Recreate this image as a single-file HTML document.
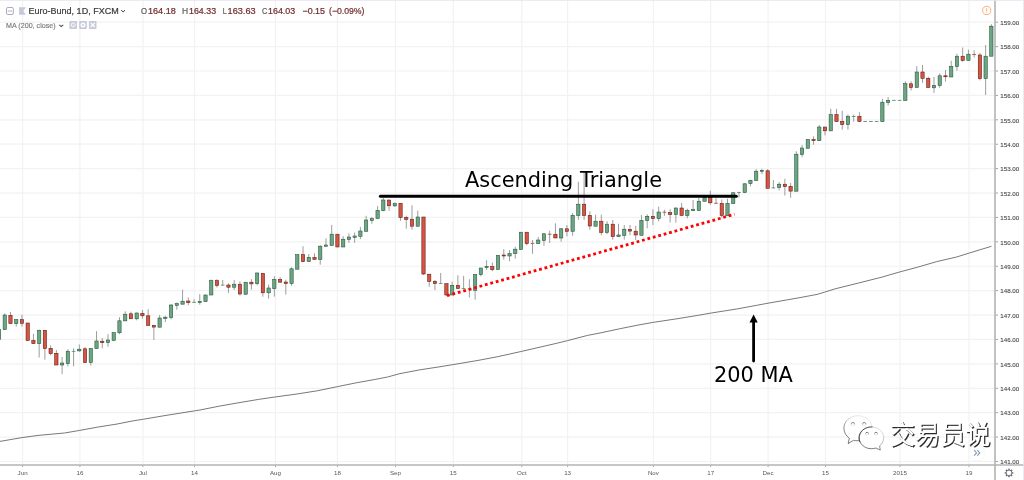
<!DOCTYPE html><html><head><meta charset="utf-8"><title>Euro-Bund chart</title><style>html,body{margin:0;padding:0;background:#fff}body{width:1024px;height:480px;position:relative;overflow:hidden}</style></head><body><svg width="1024" height="480" viewBox="0 0 1024 480" style="position:absolute;left:0;top:0">
<path d="M22.6 0V465.0M79.9 0V465.0M142.9 0V465.0M194.5 0V465.0M275.5 0V465.0M337.4 0V465.0M395.5 0V465.0M453.3 0V465.0M521.8 0V465.0M567.6 0V465.0M653.4 0V465.0M710.7 0V465.0M768.1 0V465.0M825.5 0V465.0M900.0 0V465.0M969.0 0V465.0M0 22.20H995.0M0 46.61H995.0M0 71.01H995.0M0 95.42H995.0M0 119.82H995.0M0 144.22H995.0M0 168.63H995.0M0 193.03H995.0M0 217.44H995.0M0 241.84H995.0M0 266.25H995.0M0 290.66H995.0M0 315.06H995.0M0 339.46H995.0M0 363.87H995.0M0 388.28H995.0M0 412.68H995.0M0 437.08H995.0M0 461.49H995.0" stroke="#f2f2f2" stroke-width="1.2" fill="none"/>
<polyline points="0,441.4 22.5,437.5 39,435.3 64.5,433.0 79.7,430.4 97.7,427.1 117.2,424.0 132.8,420.9 143.6,419.2 166,415.4 194.3,410.9 200,410.0 219.5,406.1 239,402.7 258.6,399.4 275.6,396.9 297.7,393.9 317.2,390.8 337.7,386.6 356.25,382.8 375.8,379.3 387.5,377.0 400,373.6 419.5,369.9 439,366.9 453.1,364.6 478.1,360.4 497.7,356.7 521.5,351.4 536.7,347.9 556.25,343.4 567.6,340.6 587.5,335.4 600,333.0 619.5,328.8 639,324.9 653.7,322.3 678.1,318.6 697.7,315.4 711.3,313.0 736.7,309.0 756.25,305.4 768,303.2 787.5,299.8 800,297.6 817.6,294.3 825.4,291.9 835.2,288.8 858.6,283.0 882,277.1 900.2,271.8 917.2,267.3 936.7,261.6 956.25,257.1 969.1,253.1 991.4,246.3" fill="none" stroke="#555" stroke-width="0.8" stroke-linejoin="round"/>
<g clip-path="url(#cp)">
<path d="M-0.99 329.2V339.7M4.75 313.3V329.7M10.48 312.0V323.7M16.22 319.2V326.7M21.96 314.7V326.7M27.69 323.0V340.5M33.43 333.8V343.7M39.16 329.7V357.5M44.90 330.3V359.7M50.64 345.3V355.3M56.37 350.0V365.0M62.11 357.0V374.2M67.84 349.2V366.3M73.58 348.3V366.3M79.32 344.5V351.7M85.05 347.2V362.7M90.79 348.3V365.5M96.53 331.2V348.7M102.26 338.0V348.3M108.00 334.2V346.7M113.73 332.7V340.5M119.47 317.2V334.2M125.21 311.3V320.8M130.94 311.7V318.8M136.68 312.5V320.3M142.41 310.0V318.7M148.15 309.2V325.5M153.89 325.0V340.0M159.62 315.0V327.2M165.36 315.8V322.0M171.10 304.2V319.5M176.83 302.5V309.7M182.57 289.7V304.2M188.30 297.5V305.3M194.04 299.2V303.0M199.78 294.2V304.7M205.51 294.5V301.7M211.25 279.5V295.0M216.98 279.2V287.5M222.72 280.0V285.5M228.46 283.3V292.8M234.19 280.0V290.0M239.93 281.3V295.5M245.67 282.2V295.0M251.40 279.2V289.7M257.14 272.5V285.3M262.87 273.3V296.7M268.61 284.7V298.7M274.35 276.2V296.7M280.08 277.2V282.2M285.82 279.7V294.5M291.55 267.2V285.8M297.29 254.7V269.2M303.03 246.2V261.7M308.76 254.2V261.7M314.50 253.3V259.5M320.23 245.3V264.7M325.97 238.3V246.3M331.71 225.0V245.5M337.44 234.2V247.0M343.18 236.2V247.0M348.92 233.3V242.8M354.65 232.5V242.8M360.39 227.0V239.2M366.12 215.8V231.3M371.86 217.0V223.7M377.60 206.2V218.7M383.33 198.0V211.3M389.07 200.0V210.8M394.80 202.5V206.7M400.54 203.3V220.8M406.28 215.8V228.7M412.01 205.3V229.7M417.75 210.5V226.7M423.49 217.0V275.0M429.22 274.2V286.7M434.96 280.0V290.0M440.69 273.0V283.8M446.43 283.7V295.8M452.17 281.7V295.0M457.90 275.3V288.7M463.64 275.8V289.2M469.37 279.2V297.5M475.11 274.5V299.7M480.85 268.0V276.3M486.58 260.3V270.0M492.32 262.5V271.3M498.05 255.3V269.5M503.79 249.2V259.7M509.53 250.0V261.2M515.26 246.7V258.7M521.00 232.2V250.0M526.74 232.2V245.3M532.47 240.0V253.8M538.21 237.0V243.7M543.94 233.0V245.8M549.68 230.8V243.0M555.42 223.3V238.0M561.15 228.0V241.7M566.89 225.0V236.3M572.62 213.0V235.8M578.36 181.8V219.7M584.10 171.5V220.0M589.83 211.3V229.7M595.57 214.7V226.2M601.31 214.7V235.3M607.04 221.2V234.2M612.78 220.0V239.7M618.51 223.8V236.7M624.25 225.0V239.7M629.99 225.0V235.3M635.72 225.8V240.0M641.46 215.0V235.3M647.19 214.2V228.3M652.93 209.2V225.0M658.67 206.7V221.3M664.40 209.7V215.8M670.14 209.2V222.5M675.87 207.5V222.5M681.61 203.0V215.5M687.35 208.7V218.3M693.08 200.0V210.7M698.82 198.0V210.5M704.56 195.0V201.3M710.29 190.8V204.7M716.03 198.0V203.7M721.76 199.5V217.5M727.50 198.7V215.8M733.24 192.0V203.7M738.97 191.7V197.5M744.71 183.3V192.7M750.44 179.7V186.3M756.18 169.2V180.5M761.92 168.8V174.2M767.65 169.2V188.3M773.39 180.0V188.3M779.13 182.0V190.3M784.86 178.7V195.5M790.60 183.0V197.8M796.33 151.3V191.2M802.07 145.0V157.2M807.81 139.5V148.3M813.54 136.3V144.7M819.28 125.0V140.7M825.01 127.0V135.3M830.75 108.8V130.8M836.49 108.8V121.7M842.22 110.8V129.7M847.96 114.7V129.7M853.70 114.7V121.7M859.43 112.2V121.7M865.17 121.2V121.8M870.90 121.2V121.8M876.64 121.2V121.8M882.38 98.8V121.7M888.11 97.0V105.5M893.85 100.0V100.7M899.58 100.0V100.7M905.32 81.3V100.5M911.06 81.3V90.5M916.79 66.2V87.5M922.53 65.0V82.8M928.26 76.7V87.5M934.00 77.0V92.8M939.74 73.3V87.8M945.47 70.0V81.7M951.21 60.8V77.0M956.95 53.7V70.8M962.68 47.5V61.7M968.42 49.7V60.5M974.15 50.3V57.5M979.89 53.0V80.3M985.63 45.0V95.0M991.36 24.2V56.2" stroke="#737375" stroke-width="0.7" fill="none"/>
<g fill="#6ba583" stroke="#225437" stroke-width="0.55"><rect x="-2.64" y="329.2" width="3.3" height="10.5"/><rect x="3.10" y="315.0" width="3.3" height="14.7"/><rect x="14.57" y="319.7" width="3.3" height="4.0"/><rect x="37.51" y="330.3" width="3.3" height="13.3"/><rect x="60.46" y="363.0" width="3.3" height="2.0"/><rect x="66.19" y="351.2" width="3.3" height="12.5"/><rect x="77.67" y="349.2" width="3.3" height="1.7"/><rect x="89.14" y="348.3" width="3.3" height="14.2"/><rect x="94.88" y="341.0" width="3.3" height="7.7"/><rect x="106.35" y="340.0" width="3.3" height="2.7"/><rect x="112.08" y="332.7" width="3.3" height="7.8"/><rect x="117.82" y="320.8" width="3.3" height="12.0"/><rect x="123.56" y="314.2" width="3.3" height="6.7"/><rect x="135.03" y="313.0" width="3.3" height="5.8"/><rect x="157.97" y="318.0" width="3.3" height="9.2"/><rect x="163.71" y="317.2" width="3.3" height="1.2"/><rect x="169.45" y="305.0" width="3.3" height="12.5"/><rect x="175.18" y="303.7" width="3.3" height="1.7"/><rect x="180.92" y="301.2" width="3.3" height="3.0"/><rect x="198.13" y="301.3" width="3.3" height="1.3"/><rect x="203.86" y="295.0" width="3.3" height="6.7"/><rect x="209.60" y="280.7" width="3.3" height="14.3"/><rect x="232.54" y="284.2" width="3.3" height="3.0"/><rect x="244.02" y="282.2" width="3.3" height="12.0"/><rect x="255.49" y="273.0" width="3.3" height="10.7"/><rect x="266.96" y="288.0" width="3.3" height="4.8"/><rect x="272.70" y="279.5" width="3.3" height="9.2"/><rect x="289.90" y="268.8" width="3.3" height="14.8"/><rect x="295.64" y="254.7" width="3.3" height="14.5"/><rect x="307.11" y="257.3" width="3.3" height="4.3"/><rect x="318.58" y="246.2" width="3.3" height="13.3"/><rect x="324.32" y="245.0" width="3.3" height="1.3"/><rect x="330.06" y="234.2" width="3.3" height="11.3"/><rect x="341.53" y="239.2" width="3.3" height="7.8"/><rect x="347.27" y="237.0" width="3.3" height="2.5"/><rect x="353.00" y="236.0" width="3.3" height="1.3"/><rect x="358.74" y="231.0" width="3.3" height="5.3"/><rect x="364.47" y="220.0" width="3.3" height="11.3"/><rect x="370.21" y="218.7" width="3.3" height="1.8"/><rect x="375.95" y="210.3" width="3.3" height="8.3"/><rect x="381.68" y="200.0" width="3.3" height="10.5"/><rect x="393.15" y="203.7" width="3.3" height="2.2"/><rect x="416.10" y="217.0" width="3.3" height="9.2"/><rect x="450.52" y="285.3" width="3.3" height="9.7"/><rect x="473.46" y="274.5" width="3.3" height="15.8"/><rect x="479.20" y="268.0" width="3.3" height="6.7"/><rect x="484.93" y="266.3" width="3.3" height="1.3"/><rect x="496.40" y="255.3" width="3.3" height="14.2"/><rect x="507.88" y="253.7" width="3.3" height="2.3"/><rect x="513.61" y="249.2" width="3.3" height="4.5"/><rect x="519.35" y="232.2" width="3.3" height="17.3"/><rect x="536.56" y="240.0" width="3.3" height="3.7"/><rect x="542.29" y="233.8" width="3.3" height="6.7"/><rect x="559.50" y="228.8" width="3.3" height="9.2"/><rect x="570.97" y="215.3" width="3.3" height="16.0"/><rect x="576.71" y="204.2" width="3.3" height="11.3"/><rect x="593.92" y="221.2" width="3.3" height="5.0"/><rect x="605.39" y="224.2" width="3.3" height="8.3"/><rect x="616.86" y="235.0" width="3.3" height="1.7"/><rect x="622.60" y="229.2" width="3.3" height="6.2"/><rect x="639.81" y="220.3" width="3.3" height="15.0"/><rect x="645.54" y="216.3" width="3.3" height="4.2"/><rect x="657.02" y="212.0" width="3.3" height="6.7"/><rect x="674.22" y="208.0" width="3.3" height="6.7"/><rect x="685.70" y="210.5" width="3.3" height="5.0"/><rect x="691.43" y="209.7" width="3.3" height="1.0"/><rect x="697.17" y="201.2" width="3.3" height="9.3"/><rect x="702.91" y="197.5" width="3.3" height="3.8"/><rect x="725.85" y="203.3" width="3.3" height="12.5"/><rect x="731.59" y="192.8" width="3.3" height="10.8"/><rect x="743.06" y="183.8" width="3.3" height="8.8"/><rect x="748.79" y="180.3" width="3.3" height="3.3"/><rect x="754.53" y="171.2" width="3.3" height="9.3"/><rect x="760.27" y="170.3" width="3.3" height="1.0"/><rect x="777.48" y="184.2" width="3.3" height="3.3"/><rect x="794.68" y="154.2" width="3.3" height="37.0"/><rect x="800.42" y="148.0" width="3.3" height="6.5"/><rect x="806.16" y="139.5" width="3.3" height="8.8"/><rect x="817.63" y="127.0" width="3.3" height="13.7"/><rect x="829.10" y="114.7" width="3.3" height="16.2"/><rect x="846.31" y="116.2" width="3.3" height="8.5"/><rect x="880.73" y="102.2" width="3.3" height="19.5"/><rect x="886.46" y="100.3" width="3.3" height="2.2"/><rect x="903.67" y="83.7" width="3.3" height="16.8"/><rect x="915.14" y="72.0" width="3.3" height="15.5"/><rect x="932.35" y="85.3" width="3.3" height="2.5"/><rect x="938.09" y="75.8" width="3.3" height="9.7"/><rect x="949.56" y="66.3" width="3.3" height="10.7"/><rect x="955.30" y="56.2" width="3.3" height="10.5"/><rect x="966.77" y="54.2" width="3.3" height="6.3"/><rect x="983.98" y="56.2" width="3.3" height="22.5"/><rect x="989.71" y="26.2" width="3.3" height="30.0"/></g>
<g fill="#d75442" stroke="#5b1a13" stroke-width="0.55"><rect x="8.83" y="315.3" width="3.3" height="8.3"/><rect x="20.31" y="319.7" width="3.3" height="3.7"/><rect x="26.04" y="323.0" width="3.3" height="17.5"/><rect x="31.78" y="340.5" width="3.3" height="3.2"/><rect x="43.25" y="330.3" width="3.3" height="18.3"/><rect x="48.99" y="348.3" width="3.3" height="5.3"/><rect x="54.72" y="353.3" width="3.3" height="11.7"/><rect x="83.40" y="348.8" width="3.3" height="13.8"/><rect x="100.61" y="341.2" width="3.3" height="1.5"/><rect x="129.29" y="313.8" width="3.3" height="5.0"/><rect x="140.76" y="313.3" width="3.3" height="2.5"/><rect x="146.50" y="315.8" width="3.3" height="9.7"/><rect x="152.24" y="325.3" width="3.3" height="1.8"/><rect x="186.65" y="301.0" width="3.3" height="1.7"/><rect x="215.33" y="280.7" width="3.3" height="4.8"/><rect x="226.81" y="285.0" width="3.3" height="2.2"/><rect x="238.28" y="284.2" width="3.3" height="9.8"/><rect x="249.75" y="282.2" width="3.3" height="1.7"/><rect x="261.22" y="273.3" width="3.3" height="19.5"/><rect x="278.43" y="279.5" width="3.3" height="2.7"/><rect x="284.17" y="282.0" width="3.3" height="1.7"/><rect x="301.38" y="254.7" width="3.3" height="7.0"/><rect x="312.85" y="257.5" width="3.3" height="2.0"/><rect x="335.79" y="234.2" width="3.3" height="12.8"/><rect x="387.42" y="200.0" width="3.3" height="5.8"/><rect x="398.89" y="203.3" width="3.3" height="14.3"/><rect x="404.63" y="217.5" width="3.3" height="2.0"/><rect x="410.36" y="219.2" width="3.3" height="7.0"/><rect x="421.84" y="217.0" width="3.3" height="57.0"/><rect x="427.57" y="274.2" width="3.3" height="7.2"/><rect x="433.31" y="281.3" width="3.3" height="2.3"/><rect x="444.78" y="283.7" width="3.3" height="11.3"/><rect x="456.25" y="285.3" width="3.3" height="3.3"/><rect x="490.67" y="266.7" width="3.3" height="3.0"/><rect x="502.14" y="255.0" width="3.3" height="1.0"/><rect x="525.09" y="232.2" width="3.3" height="11.5"/><rect x="553.77" y="234.2" width="3.3" height="3.8"/><rect x="565.24" y="228.8" width="3.3" height="2.5"/><rect x="582.45" y="204.2" width="3.3" height="11.3"/><rect x="588.18" y="215.3" width="3.3" height="10.7"/><rect x="599.66" y="221.2" width="3.3" height="11.3"/><rect x="611.13" y="224.2" width="3.3" height="12.5"/><rect x="628.34" y="229.3" width="3.3" height="1.8"/><rect x="634.07" y="231.2" width="3.3" height="3.8"/><rect x="651.28" y="216.3" width="3.3" height="2.3"/><rect x="668.49" y="212.5" width="3.3" height="2.2"/><rect x="679.96" y="208.0" width="3.3" height="7.5"/><rect x="708.64" y="197.5" width="3.3" height="5.3"/><rect x="720.11" y="203.3" width="3.3" height="12.2"/><rect x="766.00" y="170.8" width="3.3" height="17.5"/><rect x="783.21" y="184.2" width="3.3" height="2.5"/><rect x="788.95" y="186.3" width="3.3" height="4.8"/><rect x="811.89" y="139.5" width="3.3" height="1.2"/><rect x="823.36" y="127.0" width="3.3" height="3.8"/><rect x="834.84" y="114.7" width="3.3" height="7.0"/><rect x="840.57" y="121.3" width="3.3" height="3.2"/><rect x="857.78" y="116.3" width="3.3" height="5.3"/><rect x="909.41" y="83.8" width="3.3" height="3.7"/><rect x="920.88" y="72.0" width="3.3" height="6.3"/><rect x="926.61" y="78.3" width="3.3" height="9.2"/><rect x="943.82" y="75.8" width="3.3" height="1.0"/><rect x="961.03" y="56.2" width="3.3" height="4.3"/><rect x="978.24" y="55.0" width="3.3" height="23.7"/></g>
<rect x="71.73" y="350.9" width="3.6999999999999997" height="0.8" fill="#4f8a6a"/><rect x="192.19" y="301.9" width="3.6999999999999997" height="0.8" fill="#4f8a6a"/><rect x="220.87" y="284.7" width="3.6999999999999997" height="0.8" fill="#4f8a6a"/><rect x="438.84" y="283.2" width="3.6999999999999997" height="0.8" fill="#4f8a6a"/><rect x="461.79" y="288.2" width="3.6999999999999997" height="0.8" fill="#4f8a6a"/><rect x="467.52" y="288.6" width="3.6999999999999997" height="0.8" fill="#4f8a6a"/><rect x="530.62" y="242.9" width="3.6999999999999997" height="0.8" fill="#a8402f"/><rect x="547.83" y="233.8" width="3.6999999999999997" height="0.8" fill="#a8402f"/><rect x="662.55" y="211.8" width="3.6999999999999997" height="0.8" fill="#a8402f"/><rect x="714.18" y="202.8" width="3.6999999999999997" height="0.8" fill="#a8402f"/><rect x="737.12" y="192.1" width="3.6999999999999997" height="0.8" fill="#4f8a6a"/><rect x="771.54" y="187.5" width="3.6999999999999997" height="0.8" fill="#4f8a6a"/><rect x="851.85" y="116.0" width="3.6999999999999997" height="0.8" fill="#4f8a6a"/><rect x="863.32" y="121.1" width="3.6999999999999997" height="0.8" fill="#4f8a6a"/><rect x="869.05" y="121.1" width="3.6999999999999997" height="0.8" fill="#4f8a6a"/><rect x="874.79" y="121.1" width="3.6999999999999997" height="0.8" fill="#4f8a6a"/><rect x="892.00" y="99.9" width="3.6999999999999997" height="0.8" fill="#4f8a6a"/><rect x="897.73" y="99.9" width="3.6999999999999997" height="0.8" fill="#4f8a6a"/><rect x="972.30" y="54.0" width="3.6999999999999997" height="0.8" fill="#a8402f"/>
</g>
<defs><clipPath id="cp"><rect x="0" y="0" width="994.3" height="465.0"/></clipPath></defs>
<line x1="380.4" y1="196.3" x2="736.3" y2="196.3" stroke="#000" stroke-width="3" stroke-linecap="round"/>
<line x1="447.0" y1="295.7" x2="734.5" y2="214.3" stroke="#ff0000" stroke-width="2.8" stroke-dasharray="2.8 2.83"/>
<line x1="753.6" y1="361" x2="753.6" y2="321" stroke="#000" stroke-width="2.8" stroke-linecap="round"/>
<path d="M753.6 314.6L757.7 322.6H749.5Z" fill="#000"/>
<text x="465.0" y="186.5" font-family="'DejaVu Sans',sans-serif" font-size="20.9" fill="#000" id="t1">Ascending Triangle</text>
<text x="714.0" y="381.8" font-family="'DejaVu Sans',sans-serif" font-size="20.9" fill="#000" id="t2">200 MA</text>
<rect x="995.0" y="0" width="29.0" height="480" fill="#fff"/>
<rect x="0" y="465.0" width="1024" height="15.0" fill="#fff"/>
<path d="M995.0 0V480M0 465.0H1024" stroke="#b4b4b4" stroke-width="1.6" fill="none"/>
<path d="M995.8 22.20h2.2M995.8 46.61h2.2M995.8 71.01h2.2M995.8 95.42h2.2M995.8 119.82h2.2M995.8 144.22h2.2M995.8 168.63h2.2M995.8 193.03h2.2M995.8 217.44h2.2M995.8 241.84h2.2M995.8 266.25h2.2M995.8 290.66h2.2M995.8 315.06h2.2M995.8 339.46h2.2M995.8 363.87h2.2M995.8 388.28h2.2M995.8 412.68h2.2M995.8 437.08h2.2M995.8 461.49h2.2M22.6 465.8v1.2M79.9 465.8v1.2M142.9 465.8v1.2M194.5 465.8v1.2M275.5 465.8v1.2M337.4 465.8v1.2M395.5 465.8v1.2M453.3 465.8v1.2M521.8 465.8v1.2M567.6 465.8v1.2M653.4 465.8v1.2M710.7 465.8v1.2M768.1 465.8v1.2M825.5 465.8v1.2M900.0 465.8v1.2M969.0 465.8v1.2" stroke="#777" stroke-width="0.7" fill="none"/>
<g font-family="'Liberation Sans',sans-serif" font-size="6.2" fill="#4c4c4c" stroke="#4c4c4c" stroke-width="0.12">
<text x="1000.3" y="24.90">159.00</text>
<text x="1000.3" y="49.31">158.00</text>
<text x="1000.3" y="73.71">157.00</text>
<text x="1000.3" y="98.12">156.00</text>
<text x="1000.3" y="122.52">155.00</text>
<text x="1000.3" y="146.92">154.00</text>
<text x="1000.3" y="171.33">153.00</text>
<text x="1000.3" y="195.73">152.00</text>
<text x="1000.3" y="220.14">151.00</text>
<text x="1000.3" y="244.54">150.00</text>
<text x="1000.3" y="268.95">149.00</text>
<text x="1000.3" y="293.36">148.00</text>
<text x="1000.3" y="317.76">147.00</text>
<text x="1000.3" y="342.16">146.00</text>
<text x="1000.3" y="366.57">145.00</text>
<text x="1000.3" y="390.98">144.00</text>
<text x="1000.3" y="415.38">143.00</text>
<text x="1000.3" y="439.78">142.00</text>
<text x="1000.3" y="464.19">141.00</text>
<text x="22.6" y="475.1" text-anchor="middle" fill="#565656" stroke="none">Jun</text>
<text x="79.9" y="475.1" text-anchor="middle" fill="#565656" stroke="none">16</text>
<text x="142.9" y="475.1" text-anchor="middle" fill="#565656" stroke="none">Jul</text>
<text x="194.5" y="475.1" text-anchor="middle" fill="#565656" stroke="none">14</text>
<text x="275.5" y="475.1" text-anchor="middle" fill="#565656" stroke="none">Aug</text>
<text x="337.4" y="475.1" text-anchor="middle" fill="#565656" stroke="none">18</text>
<text x="395.5" y="475.1" text-anchor="middle" fill="#565656" stroke="none">Sep</text>
<text x="453.3" y="475.1" text-anchor="middle" fill="#565656" stroke="none">15</text>
<text x="521.8" y="475.1" text-anchor="middle" fill="#565656" stroke="none">Oct</text>
<text x="567.6" y="475.1" text-anchor="middle" fill="#565656" stroke="none">13</text>
<text x="653.4" y="475.1" text-anchor="middle" fill="#565656" stroke="none">Nov</text>
<text x="710.7" y="475.1" text-anchor="middle" fill="#565656" stroke="none">17</text>
<text x="768.1" y="475.1" text-anchor="middle" fill="#565656" stroke="none">Dec</text>
<text x="825.5" y="475.1" text-anchor="middle" fill="#565656" stroke="none">15</text>
<text x="900.0" y="475.1" text-anchor="middle" fill="#565656" stroke="none">2015</text>
<text x="969.0" y="475.1" text-anchor="middle" fill="#565656" stroke="none">19</text>
</g>
<defs><clipPath id="cl"><rect x="995.0" y="440" width="30" height="24.19999999999999"/></clipPath></defs>
<circle cx="986.7" cy="10.5" r="4.1" fill="#fff" stroke="#ff9a55" stroke-width="0.8"/><path d="M986.7 8.2V11.4M986.7 12.3v0.8" stroke="#ff9a55" stroke-width="0.8" fill="none"/>
<circle cx="977.1" cy="453.1" r="8.3" fill="#f4f4f6"/><circle cx="977.1" cy="452.9" r="7.7" fill="#fff"/>
<path d="M974.1 450.100l2.500 2.800-2.500 2.800M977.300 450.100l2.500 2.800-2.500 2.800" stroke="#7d96b4" stroke-width="1.05" fill="none"/>
<g transform="translate(1009 472.9)"><circle r="2.9" fill="none" stroke="#626676" stroke-width="0.95"/><rect x="-0.8" y="-4.25" width="1.6" height="1.100" fill="#626676" transform="rotate(0)"/><rect x="-0.8" y="-4.25" width="1.6" height="1.100" fill="#626676" transform="rotate(45)"/><rect x="-0.8" y="-4.25" width="1.6" height="1.100" fill="#626676" transform="rotate(90)"/><rect x="-0.8" y="-4.25" width="1.6" height="1.100" fill="#626676" transform="rotate(135)"/><rect x="-0.8" y="-4.25" width="1.6" height="1.100" fill="#626676" transform="rotate(180)"/><rect x="-0.8" y="-4.25" width="1.6" height="1.100" fill="#626676" transform="rotate(225)"/><rect x="-0.8" y="-4.25" width="1.6" height="1.100" fill="#626676" transform="rotate(270)"/><rect x="-0.8" y="-4.25" width="1.6" height="1.100" fill="#626676" transform="rotate(315)"/></g>
<rect x="6.5" y="7.5" width="6.8" height="7" rx="1.3" fill="#fff" stroke="#9fa3b4" stroke-width="0.9"/><path d="M7.8 11.05h4.2" stroke="#b4b7c6" stroke-width="1.1"/>
<path d="M19.05 7.3h6.85l-2.6 3.7 2.6 3.7H19.05z" fill="#c6c9d9"/>
<g font-family="'Liberation Sans',sans-serif" font-size="8.9" stroke-width="0.22">
<text x="28.5" y="13.9" fill="#3c3c3c" stroke="#3c3c3c" textLength="90.2" lengthAdjust="spacingAndGlyphs">Euro-Bund, 1D, FXCM</text>
<text x="141.1" y="13.9" fill="#5e5e5e" stroke="#5e5e5e" textLength="6.0" lengthAdjust="spacingAndGlyphs">O</text><text x="148" y="13.9" fill="#732c2c" stroke="#732c2c" textLength="27.8" lengthAdjust="spacingAndGlyphs">164.18</text>
<text x="182" y="13.9" fill="#5e5e5e" stroke="#5e5e5e" textLength="6.1" lengthAdjust="spacingAndGlyphs">H</text><text x="189" y="13.9" fill="#732c2c" stroke="#732c2c" textLength="27.1" lengthAdjust="spacingAndGlyphs">164.33</text>
<text x="222.75" y="13.9" fill="#5e5e5e" stroke="#5e5e5e" textLength="3.9" lengthAdjust="spacingAndGlyphs">L</text><text x="227.6" y="13.9" fill="#732c2c" stroke="#732c2c" textLength="28.0" lengthAdjust="spacingAndGlyphs">163.63</text>
<text x="261.9" y="13.9" fill="#5e5e5e" stroke="#5e5e5e" textLength="5.3" lengthAdjust="spacingAndGlyphs">C</text><text x="268.1" y="13.9" fill="#732c2c" stroke="#732c2c" textLength="27.1" lengthAdjust="spacingAndGlyphs">164.03</text>
<text x="302.5" y="13.9" fill="#732c2c" stroke="#732c2c" textLength="22.5" lengthAdjust="spacingAndGlyphs">−0.15</text>
<text x="329" y="13.9" fill="#732c2c" stroke="#732c2c" textLength="35.4" lengthAdjust="spacingAndGlyphs">(−0.09%)</text>
</g>
<path d="M121.2 10.2l1.9 1.7 1.9-1.7" stroke="#3c3c3c" stroke-width="1" fill="none"/>
<text x="6.1" y="27.6" font-family="'Liberation Sans',sans-serif" font-size="6.7" fill="#767676" stroke="#767676" stroke-width="0.12" textLength="49.5" lengthAdjust="spacingAndGlyphs">MA (200, close)</text>
<path d="M59.2 24.8l2.05 1.7 2.05-1.7" stroke="#555a68" stroke-width="1.1" fill="none"/>
<rect x="69.4" y="21" width="7.6" height="7.9" rx="0.9" fill="#c6cad9"/>
<rect x="79.2" y="21" width="7.6" height="7.9" rx="0.9" fill="#c6cad9"/>
<rect x="88.9" y="21" width="7.6" height="7.9" rx="0.9" fill="#c6cad9"/>
<circle cx="73.2" cy="24.95" r="2.0" fill="none" stroke="#fff" stroke-width="0.9"/><circle cx="73.2" cy="24.95" r="0.55" fill="#fff"/>
<circle cx="83" cy="24.95" r="1.75" fill="none" stroke="#fff" stroke-width="1.5"/>
<path d="M90.6 22.85l4.2 4.2M94.8 22.85l-4.2 4.2" stroke="#fff" stroke-width="1.25"/>
<rect x="0" y="0" width="1024" height="0.8" fill="#e6e7f0"/><rect x="1023.2" y="0" width="0.8" height="480" fill="#e6e7f0"/>
<defs><linearGradient id="lg1" gradientUnits="userSpaceOnUse" x1="875" y1="414" x2="850" y2="446"><stop offset="0" stop-color="#efefef"/><stop offset="0.42" stop-color="#cfcfcf"/><stop offset="0.72" stop-color="#4a4a4a"/><stop offset="1" stop-color="#2e2e2e"/></linearGradient><linearGradient id="lg2" gradientUnits="userSpaceOnUse" x1="886" y1="428" x2="868" y2="452"><stop offset="0" stop-color="#e6e6e6"/><stop offset="0.4" stop-color="#a0a0a0"/><stop offset="0.75" stop-color="#383838"/><stop offset="1" stop-color="#2e2e2e"/></linearGradient><linearGradient id="lg3" gradientUnits="objectBoundingBox" x1="0" y1="0" x2="0" y2="1"><stop offset="0" stop-color="#444"/><stop offset="0.6" stop-color="#bbb"/><stop offset="1" stop-color="#eee"/></linearGradient></defs>
<path d="M858 415.7c-7.8 0-14.100 5.600-14.100 12.500 0 4 2.100 7.600 5.400 9.900l-1.100 5.500 5.300-3.300c1.400 0.300 2.900 0.400 4.500 0.400 7.800 0 14.100-5.600 14.100-12.500s-6.300-12.500-14.100-12.500z" fill="#fff" stroke="url(#lg1)" stroke-width="0.65"/>
<path d="M871.4 426.900c6.800 0 12.300 4.900 12.300 10.900 0 3.200-1.600 6.100-4.100 8.100l0.700 4.200-4.400-2.100c-1.400 0.500-2.900 0.700-4.500 0.700-6.800 0-12.300-4.900-12.300-10.900s5.500-10.900 12.300-10.900z" fill="#fff" stroke="url(#lg2)" stroke-width="0.65"/>
<path d="M860.100 442.300c-0.700-1.400-1-2.900-1-4.500 0-5.600 4.800-10.200 11-10.800l2.400-0.100" fill="none" stroke="#3a3a3a" stroke-width="0.8"/>
<g fill="#fff" stroke="url(#lg3)" stroke-width="0.7"><circle cx="852.9" cy="424.2" r="1.7"/><circle cx="864.2" cy="424.2" r="1.7"/><circle cx="867.1" cy="433.800" r="1.5"/><circle cx="876" cy="433.800" r="1.5"/></g>
<g transform="translate(889.9 444.1) scale(0.998 1.035)" font-family="'Liberation Sans','Noto Sans CJK SC',sans-serif" font-size="25.2"><text x="1.0" y="0.95" fill="#2a2a2a" stroke="#2a2a2a" stroke-width="0.35" id="wm">交易员说</text><text x="0" y="0" fill="#fff">交易员说</text></g>
</svg></body></html>
